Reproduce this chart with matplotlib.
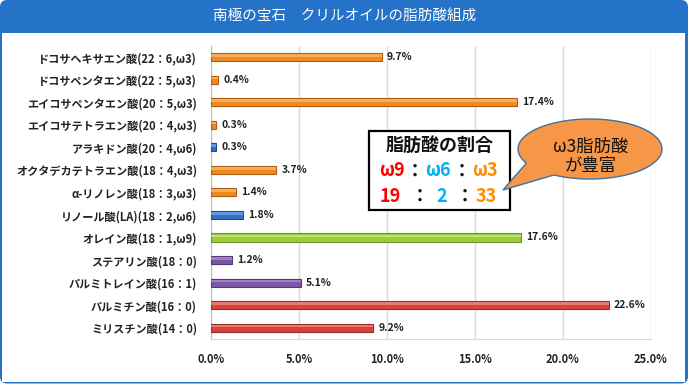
import matplotlib
matplotlib.use("Agg")
import matplotlib.pyplot as plt
import numpy as np
from matplotlib.patches import FancyBboxPatch, Rectangle, Polygon

plt.rcParams['font.family'] = ['Noto Sans CJK JP', 'DejaVu Sans']

# ---------------------------------------------------------------------------
# Data
# ---------------------------------------------------------------------------
labels = [
    "ドコサヘキサエン酸(22：6,ω3)",
    "ドコサペンタエン酸(22：5,ω3)",
    "エイコサペンタエン酸(20：5,ω3)",
    "エイコサテトラエン酸(20：4,ω3)",
    "アラキドン酸(20：4,ω6)",
    "オクタデカテトラエン酸(18：4,ω3)",
    "α-リノレン酸(18：3,ω3)",
    "リノール酸(LA)(18：2,ω6)",
    "オレイン酸(18：1,ω9)",
    "ステアリン酸(18：0)",
    "パルミトレイン酸(16：1)",
    "パルミチン酸(16：0)",
    "ミリスチン酸(14：0)",
]
values = [9.7, 0.4, 17.4, 0.3, 0.3, 3.7, 1.4, 1.8, 17.6, 1.2, 5.1, 22.6, 9.2]
groups = ["w3", "w3", "w3", "w3", "w6", "w3", "w3", "w6", "w9",
          "sat", "mono", "sat2", "sat2"]
xticks = [0, 5, 10, 15, 20, 25]

title = "南極の宝石　クリルオイルの脂肪酸組成"
ratio_names = ["ω9", "ω6", "ω3"]
ratio_values = ["19", "2", "33"]

# ---------------------------------------------------------------------------
# Styles
# ---------------------------------------------------------------------------
face = {"w3": "#EE8A24", "w6": "#2F74C4", "w9": "#9CCB3C",
        "sat": "#7B58A6", "mono": "#7B58A6", "sat2": "#D8433F"}
edge = {"w3": "#B05E0E", "w6": "#1D4F8C", "w9": "#6E9424",
        "sat": "#54397A", "mono": "#54397A", "sat2": "#9C2A27"}
light = {"w3": "#F8B66A", "w6": "#6FA3E0", "w9": "#C9E77E",
         "sat": "#A98BCF", "mono": "#A98BCF", "sat2": "#EE8A86"}
ratio_colors = ["#FF0000", "#00B0F0", "#FF8C00"]

W, H = 690, 384
fig = plt.figure(figsize=(W / 100, H / 100), dpi=100)

# background frame in pixel coordinates
bg = fig.add_axes([0, 0, 1, 1], zorder=0)
bg.set_xlim(0, W)
bg.set_ylim(H, 0)
bg.axis("off")
bg.add_patch(FancyBboxPatch((0, 0), 688, 383.5, boxstyle="round,pad=0,rounding_size=7",
                            fc="#2473C9", ec="none"))
bg.add_patch(Rectangle((2, 33), 683, 348.5, fc="white", ec="none"))
bg.text(345, 17, title, color="white", fontsize=10.5, ha="center", va="center")

# bar chart
ax = fig.add_axes([211 / W, 1 - 339 / H, 440 / W, (339 - 45.75) / H], zorder=1)
ax.patch.set_alpha(0)
y = np.arange(len(labels))
cols = [face[g] for g in groups]
ecols = [edge[g] for g in groups]
ax.barh(y, values, height=0.36, color=cols, edgecolor=ecols, linewidth=0.8, zorder=3)
# highlight stripe to mimic the glossy 3D bars
ax.barh(y - 0.07, values, height=0.12, color=[light[g] for g in groups],
        linewidth=0, zorder=4, alpha=0.8)
for yi, v in zip(y, values):
    ax.text(v + 0.3, yi, f"{v:.1f}%", va="center", ha="left",
            fontsize=7.5, fontweight="bold", color="#222222")

ax.set_ylim(len(labels) - 0.5, -0.5)
ax.set_xlim(0, 25)
ax.set_xticks(xticks)
ax.set_xticklabels([f"{t:.1f}%" for t in xticks], fontweight="bold", fontsize=8)
ax.set_yticks(y)
ax.set_yticklabels(labels, fontweight="bold", fontsize=8)
ax.tick_params(axis="both", length=0, colors="#222222")
ax.tick_params(axis="x", pad=10)
ax.tick_params(axis="y", pad=10)
ax.grid(axis="x", color="#D9D9D9", linewidth=1, zorder=0)
for s in ["top", "right"]:
    ax.spines[s].set_visible(False)
ax.spines["left"].set_color("#BFBFBF")
ax.spines["bottom"].set_color("#D9D9D9")

# overlay: ratio box and callout
ov = fig.add_axes([0, 0, 1, 1], zorder=5)
ov.set_xlim(0, W)
ov.set_ylim(H, 0)
ov.axis("off")
ov.add_patch(Rectangle((369, 131), 141, 79, fc="white", ec="black", lw=1.6))
ov.text(439.5, 145, "脂肪酸の割合", fontsize=13, fontweight="bold",
        ha="center", va="center", color="#111111")
name_x = [392, 438, 485]
colon_x = [415, 462]
for nx, nm, c in zip(name_x, ratio_names, ratio_colors):
    ov.text(nx, 171, nm, fontsize=13, fontweight="bold", color=c, ha="center", va="center")
for cx in colon_x:
    ov.text(cx, 171, "：", fontsize=13, fontweight="bold", color="#111111",
            ha="center", va="center")
val_x = [390, 442, 486]
colon_x2 = [420, 465]
for vx, vv, c in zip(val_x, ratio_values, ratio_colors):
    ov.text(vx, 196, vv, fontsize=13, fontweight="bold", color=c, ha="center", va="center")
for cx in colon_x2:
    ov.text(cx, 196, "：", fontsize=13, fontweight="bold", color="#111111",
            ha="center", va="center")

# speech bubble (ellipse with a tail)
cx, cy, a, b = 590, 149, 72, 30
th = np.radians(np.linspace(152, 480, 300))
pts = np.column_stack([cx + a * np.cos(th), cy + b * np.sin(th)])
pts = np.vstack([pts, [[503, 190]]])
ov.add_patch(Polygon(pts, closed=True, fc="#F79646", ec="#41719C", lw=1.0))
ov.text(591, 147, "ω3脂肪酸", fontsize=12.5, ha="center", va="center", color="#111111")
ov.text(591, 166, "が豊富", fontsize=12.5, ha="center", va="center", color="#111111")

fig.savefig("out.png", dpi=100)
